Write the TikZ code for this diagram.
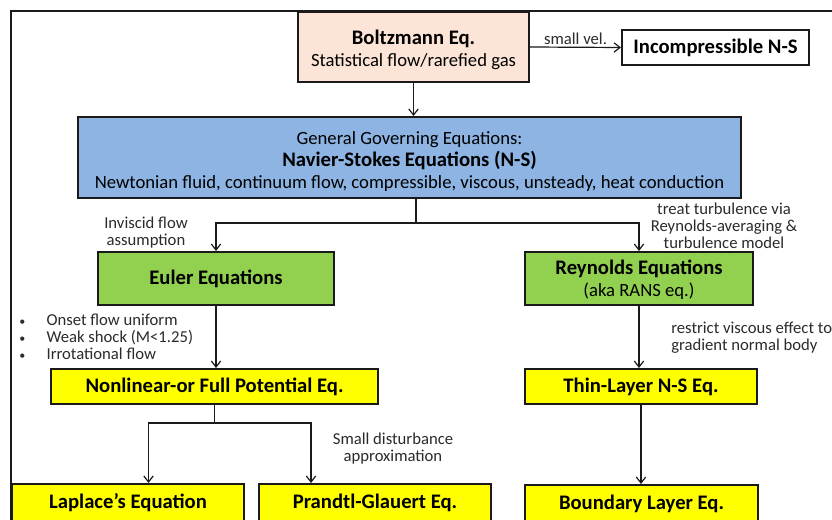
\documentclass[tikz,border=0pt]{standalone}
\usepackage{fontspec}
\setmainfont{Carlito}
\usetikzlibrary{arrows.meta,calc}
\definecolor{peach}{HTML}{FCE4D6}
\definecolor{nsblue}{HTML}{8DB4E2}
\definecolor{eqgreen}{HTML}{92D050}
\definecolor{eqyellow}{HTML}{FFFF00}
\definecolor{ink}{HTML}{1A1A1A}
\definecolor{labelgray}{HTML}{2B2B2B}
\begin{document}
\begin{tikzpicture}[x=0.75pt,y=-0.75pt,
  sz/.style 2 args={minimum width=#1*0.75pt, minimum height=#2*0.75pt},
  box/.style={draw=ink, line width=1.5pt, align=center, inner sep=0pt,
    font=\fontsize{15.5}{16.5}\selectfont\bfseries},
  conn/.style={draw=ink, line width=0.9pt},
  arr/.style={conn, -{Straight Barb[length=4.5pt,width=7pt]}},
  lbl/.style={font=\fontsize{12.5}{12.75}\selectfont, text=labelgray, inner sep=0pt}]
\useasboundingbox (0,0) rectangle (832,520);
\fill[white] (0,0) rectangle (832,520);

% outer frame
\draw[draw=ink, line width=1.5pt] (11,530) -- (11,11) -- (840,11);

% boxes
\node[box, fill=peach, sz={231}{70}] (boltz) at (413.5,47)
  {\rule{0pt}{15pt}Boltzmann Eq.\\{\fontsize{14}{16.5}\selectfont\mdseries Statistical flow/rarefied gas}};
\node[box, fill=white, sz={187}{35}] (incomp) at (715.5,47.5) {Incompressible N-S};
\node[box, fill=nsblue, sz={663}{81}] (ns) at (409.5,157.5)
  {{\fontsize{14}{16.5}\selectfont\mdseries\rule{0pt}{16pt}General Governing Equations:}\\
   Navier-Stokes Equations (N-S)\\
   {\fontsize{14}{16.5}\selectfont\mdseries Newtonian fluid, continuum flow, compressible, viscous, unsteady, heat conduction}};
\node[box, fill=eqgreen, sz={236}{53}] (euler) at (216,278.5) {Euler Equations};
\node[box, fill=eqgreen, sz={228}{53}] (reyn) at (639,278.5)
  {\rule{0pt}{13pt}Reynolds Equations\\{\fontsize{14}{15}\selectfont\mdseries (aka RANS eq.)}};
\node[box, fill=eqyellow, sz={327}{35}] (nonlin) at (214.5,386.5) {Nonlinear-or Full Potential Eq.};
\node[box, fill=eqyellow, sz={232}{35}] (thin) at (641,386.5) {Thin-Layer N-S Eq.};
\node[box, fill=eqyellow, sz={232}{37}] (laplace) at (128,502.5) {Laplace’s Equation};
\node[box, fill=eqyellow, sz={232}{37}] (prandtl) at (375,502.5) {Prandtl-Glauert Eq.};
\node[box, fill=eqyellow, sz={233}{37}] (boundary) at (641.5,503.5) {Boundary Layer Eq.};

% connectors
\draw[arr] (boltz.east) -- (incomp.west)
  node[lbl, midway, above=1.5pt] {small vel.};
\draw[arr] (boltz.south) -- (boltz.south |- ns.north);

\coordinate (nsfork) at ($(ns.south)+(6.5,24)$);
\draw[conn] ($(ns.south)+(6.5,0)$) -- (nsfork);
\draw[arr] (nsfork) -| (euler.north);
\draw[arr] (nsfork) -| (reyn.north);

\draw[arr] (euler.south) -- (euler.south |- nonlin.north);
\draw[arr] (reyn.south) -- (reyn.south |- thin.north);

\coordinate (potfork) at ($(nonlin.south)+(0,18)$);
\draw[conn] (nonlin.south) -- (potfork);
\draw[arr] (potfork) -| ($(laplace.north)+(20.5,0)$);
\draw[arr] (potfork) -| ($(prandtl.north)+(-64,0)$);

\draw[arr] (thin.south) -- (thin.south |- boundary.north);

% condition labels
\node[lbl, align=center] (inviscid) at (146,232.5) {Inviscid flow\\assumption};
\node[lbl, align=center] (turb) at (724,225.5) {treat turbulence via\\Reynolds-averaging \&\\turbulence model};
\node[lbl, align=left, anchor=west] (potcond) at (19,337)
  {{\fontsize{9}{12.75}\selectfont\textbullet}\hspace{16pt}Onset flow uniform\\
   {\fontsize{9}{12.75}\selectfont\textbullet}\hspace{16pt}Weak shock (M<1.25)\\
   {\fontsize{9}{12.75}\selectfont\textbullet}\hspace{16pt}Irrotational flow};
\node[lbl, align=left, anchor=west] (thincond) at (671,337.5)
  {restrict viscous effect to\\gradient normal body};
\node[lbl, align=center] (smalldist) at (393,448.5) {Small disturbance\\approximation};
\end{tikzpicture}
\end{document}
